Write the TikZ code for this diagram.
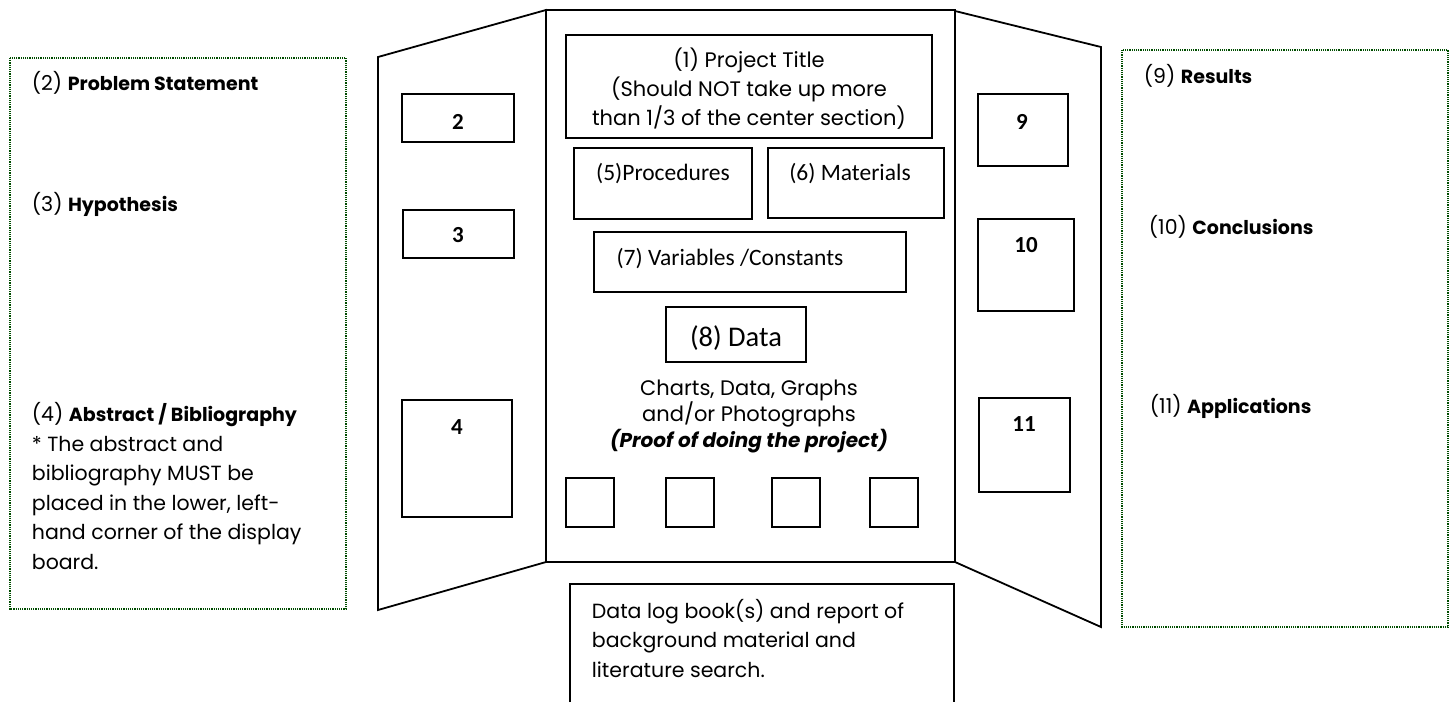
\documentclass[tikz,border=0pt]{standalone}
\usepackage{fontspec}
\setmainfont{Poppins}
\newfontfamily\calibri{Carlito}
\newcommand\hd[1]{{\fontsize{19}{29}\selectfont\bfseries #1}}
\begin{document}
\begin{tikzpicture}[x=1pt, y=-1pt, line width=1.8pt,
    every node/.style={inner sep=0pt},
    box/.style={draw, rectangle, line width=1.6pt},
    note/.style={draw=green!30!black, line width=1.8pt, dash pattern=on 1.2pt off 1pt},
    txt/.style={font=\fontsize{20.5}{29.5}\selectfont, anchor=base west},
    ctxt/.style={font=\fontsize{21}{29}\selectfont, anchor=base},
    lbl/.style={font=\calibri\fontsize{23.5}{28}\selectfont, anchor=base},
    num/.style={font=\calibri\bfseries\fontsize{23}{28}\selectfont, anchor=base}]
  \useasboundingbox (0,0) rectangle (1455,702);
  % side notes
  \draw[note] (10,58) rectangle (346,609);
  \draw[note] (1122,50) rectangle (1448,627);
  \node[txt] (t2) at (31,90) {(2) \hd{Problem Statement}};
  \node[txt] (t3) at (31,211) {(3) \hd{Hypothesis}};
  \node[txt, align=left] (t4) at (31,569) {(4) \hd{Abstract / Bibliography}\\
    * The abstract and\\ bibliography MUST be\\ placed in the lower, left-\\
    hand corner of the display\\ board.};
  \node[txt] (t9) at (1143,83) {(9) \hd{Results}};
  \node[txt] (t10) at (1148,234) {(10) \hd{Conclusions}};
  \node[txt] (t11) at (1149,413) {(11) \hd{Applications}};
  % the board
  \draw (378,57) -- (546,10) -- (546,562) -- (378,610) -- cycle;
  \draw (546,10) rectangle (955,562);
  \draw (955,11) -- (1101,47) -- (1101,627) -- (955,562);
  % left wing
  \node[box, minimum width=112pt, minimum height=48pt] (b2) at (458,118) {};
  \node[num] at (458,129) {2};
  \node[box, minimum width=111pt, minimum height=48pt] (b3) at (458.5,234) {};
  \node[num] at (458,242) {3};
  \node[box, minimum width=110pt, minimum height=117pt] (b4) at (457,458.5) {};
  \node[num] at (457,434) {4};
  % right wing
  \node[box, minimum width=90pt, minimum height=72pt] (b9) at (1023,130) {};
  \node[num] at (1022,129) {9};
  \node[box, minimum width=96pt, minimum height=92pt] (b10) at (1026,265) {};
  \node[num] at (1026,252) {10};
  \node[box, minimum width=91pt, minimum height=94pt] (b11) at (1024.5,445) {};
  \node[num] at (1024,431) {11};
  % center
  \node[box, minimum width=366pt, minimum height=103pt] (title) at (749,86.5) {};
  \node[ctxt, align=center] at (749,125) {(1) Project Title\\
    (Should NOT take up more\\ than 1/3 of the center section)};
  \node[box, minimum width=178pt, minimum height=71pt] (proc) at (663,183.5) {};
  \node[lbl] at (663,180) {(5)Procedures};
  \node[box, minimum width=176pt, minimum height=70pt] (mat) at (856,183) {};
  \node[lbl] at (850,180) {(6) Materials};
  \node[box, minimum width=312pt, minimum height=60pt] (vars) at (750,262) {};
  \node[lbl] at (730,265) {(7) Variables /Constants};
  \node[box, minimum width=140pt, minimum height=55pt] (data) at (736,334.5) {};
  \node[lbl, font=\calibri\fontsize{28.5}{32}\selectfont] at (736,346) {(8) Data};
  \node[ctxt, align=center, font=\fontsize{21}{26}\selectfont] at (749,447)
    {Charts, Data, Graphs\\ and/or Photographs\\ {\fontsize{20}{26}\selectfont\bfseries\itshape (Proof of doing the project)}};
  \foreach \x [count=\i] in {590,690,796,894}
    \node[box, minimum width=48pt, minimum height=49pt] (ph\i) at (\x,502.5) {};
  % log book below
  \draw[line width=1.6pt] (570,702) -- (570,584) -- (954,584) -- (954,702);
  \node[txt, align=left] (log) at (591,677) {Data log book(s) and report of\\
    background material and\\ literature search.};
\end{tikzpicture}
\end{document}
